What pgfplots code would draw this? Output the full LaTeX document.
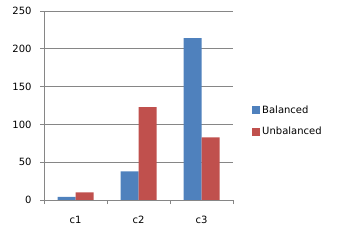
\documentclass[border=0pt]{standalone}
\usepackage{fontspec}
\setmainfont{DejaVu Sans}
\usepackage{pgfplots}
\pgfplotsset{compat=1.18}
\definecolor{cblue}{HTML}{4F81BD}
\definecolor{cred}{HTML}{C0504D}
\definecolor{cgrid}{HTML}{868686}
\begin{document}
\begin{tikzpicture}
\path[use as bounding box] (0,0) rectangle (347bp,243bp);
\begin{axis}[
  scale only axis,
  width=189bp, height=189bp,
  at={(44bp,43bp)}, anchor=south west,
  xmin=-0.5, xmax=2.5, ymin=0, ymax=250,
  ytick={0,50,...,250},
  xtick={-0.5,0.5,1.5,2.5}, xticklabels={},
  extra x ticks={0,1,2}, extra x tick labels={c1,c2,c3},
  extra x tick style={major tick length=0pt, xticklabel style={yshift=-13bp}},
  axis x line*=bottom, axis y line*=left,
  axis line style={cgrid, -},
  ymajorgrids, grid style={cgrid, line width=0.8pt},
  major tick style={cgrid, line width=0.8pt},
  major tick length=4bp,
  tick align=outside,
  ybar=0pt, bar width=18bp,
  every tick label/.append style={font=\fontsize{10bp}{12bp}\selectfont, text=black},
  yticklabel style={xshift=-5bp},
  /pgf/number format/assume math mode=true,
  legend style={draw=none, fill=none, at={(1.085,0.418)}, anchor=west,
    font=\fontsize{10bp}{12bp}\selectfont, row sep=8bp,
    /tikz/every even column/.append style={column sep=3bp}},
  legend image code/.code={\fill[#1] (0bp,-4bp) rectangle (8bp,4bp);},
  legend cell align=left,
]
\addplot[fill=cblue, draw=none] coordinates {(0,4) (1,38) (2,214)};
\addplot[fill=cred, draw=none] coordinates {(0,10) (1,123) (2,83)};
\legend{Balanced,Unbalanced}
\end{axis}
\end{tikzpicture}
\end{document}
